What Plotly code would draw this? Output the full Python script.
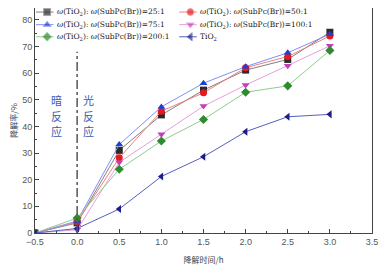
import plotly.graph_objects as go

time_h = [-0.5, 0.0, 0.5, 1.0, 1.5, 2.0, 2.5, 3.0]
s25 = [0.0, 3.8, 31.0, 44.3, 53.6, 61.1, 65.1, 75.3]
s50 = [0.0, 4.1, 28.2, 45.7, 52.6, 62.0, 66.2, 73.9]
s75 = [0.0, 4.5, 33.2, 47.3, 56.2, 62.4, 67.6, 74.6]
s100 = [0.0, 1.2, 26.5, 37.0, 47.6, 55.5, 62.7, 70.2]
s200 = [0.0, 5.6, 23.9, 34.5, 42.6, 52.8, 55.2, 68.5]
tio2 = [0.0, 1.7, 9.0, 21.2, 28.6, 38.0, 43.6, 44.5]

names = [
    "<i>ω</i>(TiO<sub>2</sub>): <i>ω</i>(SubPc(Br))=25:1",
    "<i>ω</i>(TiO<sub>2</sub>): <i>ω</i>(SubPc(Br))=50:1",
    "<i>ω</i>(TiO<sub>2</sub>): <i>ω</i>(SubPc(Br))=75:1",
    "<i>ω</i>(TiO<sub>2</sub>): <i>ω</i>(SubPc(Br))=100:1",
    "<i>ω</i>(TiO<sub>2</sub>): <i>ω</i>(SubPc(Br))=200:1",
    "TiO<sub>2</sub>",
]
series = [s25, s50, s75, s100, s200, tio2]
symbols = ["square", "circle", "triangle-up", "triangle-down", "diamond", "triangle-left"]
mcolors = ["#2a2a2a", "#e81820", "#1f3fd0", "#c040b8", "#2e8b2e", "#1c1c8c"]
lcolors = ["#808080", "#f08080", "#8090f0", "#e8a0dc", "#90cc90", "#5560c0"]

dark_label = ["暗", "反", "应"]
light_label = ["光", "反", "应"]

fig = go.Figure()
for nm, ys, sym, mc, lc in zip(names, series, symbols, mcolors, lcolors):
    fig.add_trace(go.Scatter(
        x=time_h, y=ys, name=nm, mode="lines+markers",
        line=dict(color=lc, width=1),
        marker=dict(symbol=sym, color=mc, size=7),
        showlegend=False,
    ))

# manual two-column legend (layout positions in plot-area fractions)
col_x = [0.003, 0.428]
row_y = [0.982, 0.926, 0.872]
for i, (nm, sym, mc, lc) in enumerate(zip(names, symbols, mcolors, lcolors)):
    cx = col_x[i % 2]
    ry = row_y[i // 2]
    fig.add_trace(go.Scatter(
        x=[cx, cx + 0.033, cx + 0.052], y=[ry, ry, ry], xaxis="x2", yaxis="y2",
        mode="lines+markers", line=dict(color=lc, width=1),
        marker=dict(symbol=sym, color=mc, size=[0, 7, 0]),
        showlegend=False, hoverinfo="skip",
    ))
    fig.add_annotation(x=cx + 0.057, y=ry, xref="paper", yref="paper", text=nm,
                       showarrow=False, xanchor="left", yanchor="middle",
                       font=dict(family="DejaVu Serif", size=7.5, color="#222222"))

fig.add_shape(type="line", x0=0, x1=0, y0=0, y1=68, xref="x", yref="y",
              line=dict(color="#555555", width=1.5, dash="dashdot"))

char_y = [49.8, 43.9, 38.4]
for ch, yv in zip(dark_label, char_y):
    fig.add_annotation(x=-0.25, y=yv, xref="x", yref="y", text=ch, showarrow=False,
                       font=dict(family="Noto Sans CJK SC", size=11, color="#3a5ab0"))
for ch, yv in zip(light_label, char_y):
    fig.add_annotation(x=0.14, y=yv, xref="x", yref="y", text=ch, showarrow=False,
                       font=dict(family="Noto Sans CJK SC", size=11, color="#3a5ab0"))

axis_common = dict(showline=True, linecolor="#444444", linewidth=1, mirror=True,
                   ticks="inside", ticklen=4, tickcolor="#444444", showgrid=False,
                   zeroline=False, automargin=False,
                   tickfont=dict(family="Liberation Sans", size=9, color="#555555"))

fig.update_xaxes(range=[-0.5, 3.5], dtick=0.5, tick0=-0.5, tickformat=".1f",
                 minor=dict(ticks="inside", ticklen=2, dtick=0.25, tickcolor="#444444"),
                 title=dict(text="降解时间/h", font=dict(family="Noto Sans CJK SC", size=8, color="#444444"), standoff=11),
                 **axis_common)
fig.update_yaxes(range=[0, 84.4], dtick=10,
                 minor=dict(ticks="inside", ticklen=2, dtick=5, tickcolor="#444444"),
                 title=dict(text="降解率/%", font=dict(family="Noto Sans CJK SC", size=8, color="#444444"), standoff=6),
                 **axis_common)

fig.update_layout(
    width=379, height=265,
    margin=dict(l=27, r=15, t=0, b=40),
    plot_bgcolor="white", paper_bgcolor="white",
    xaxis2=dict(overlaying="x", range=[0, 1], visible=False, fixedrange=True),
    yaxis2=dict(overlaying="y", range=[0, 1], visible=False, fixedrange=True),
    showlegend=False,
)

fig.write_html("out.html")
